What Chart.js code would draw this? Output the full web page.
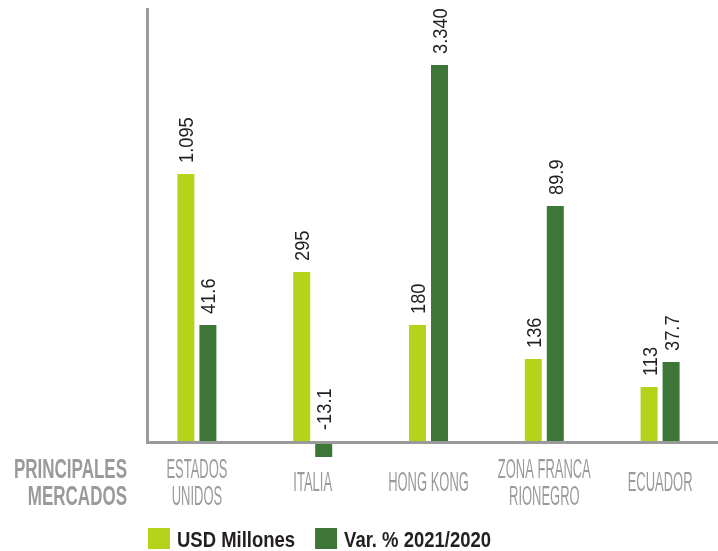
<!DOCTYPE html>
<html>
<head>
<meta charset="utf-8">
<title>Principales mercados</title>
<script src="https://cdn.jsdelivr.net/npm/chart.js"></script>
<style>
body{margin:0;background:#fff;}
#wrap{width:718px;height:551px;}
</style>
</head>
<body>
<div id="wrap"><canvas id="marketChart" width="718" height="551"></canvas></div>
<script>

/* ============================= */
/* DATA */
/* ============================= */

const markets = [["ESTADOS","UNIDOS"],["ITALIA"],["HONG KONG"],["ZONA FRANCA","RIONEGRO"],["ECUADOR"]]

// printed values (the bars are not drawn to scale in the original)
const usdLabels = ["1.095","295","180","136","113"]
const varLabels = ["41.6","-13.1","3.340","89.9","37.7"]

// bar heights as they appear in the picture
const usdHeights = [267,169,116,82,54]
const varHeights = [116,-16,376,235,79]

const seriesNames = ["USD Millones","Var. % 2021/2020"]
const axisTitle = ["PRINCIPALES","MERCADOS"]

const LIME = "#b4d31b"
const GREEN = "#3e7638"
const GREY = "#9a9a9a"
const INK = "#231f20"
const FONT = "'Liberation Sans', Arial, sans-serif"


/* ============================= */
/* HELPERS */
/* ============================= */

function condensedText(ctx,text,x,y,sx,align){
ctx.save()
ctx.translate(x,y)
ctx.scale(sx,1)
ctx.textAlign=align
ctx.fillText(text,0,0)
ctx.restore()
}


/* ============================= */
/* DRAWING PLUGIN */
/* ============================= */

const decorations = {
id:"decorations",

afterDatasetsDraw(chart){

const ctx = chart.ctx
const area = chart.chartArea
const x = chart.scales.x
const y = chart.scales.y
const zero = y.getPixelForValue(0)

// axis lines
ctx.save()
ctx.fillStyle=GREY
ctx.fillRect(area.left+7,area.top,3,zero-area.top+3)
ctx.fillRect(area.left+7,zero,area.right-area.left-7,3)
ctx.restore()

// value labels, rotated
const labels=[usdLabels,varLabels]
ctx.save()
ctx.fillStyle=INK
ctx.font="21px "+FONT
ctx.textBaseline="alphabetic"
chart.data.datasets.forEach((ds,di)=>{
chart.getDatasetMeta(di).data.forEach((bar,i)=>{
const top=Math.min(bar.y,bar.base)
ctx.save()
ctx.translate(bar.x+7.5,top-11)
ctx.rotate(-Math.PI/2)
ctx.scale(0.87,1)
ctx.textAlign="left"
ctx.fillText(labels[di][i],0,0)
ctx.restore()
})
})
ctx.restore()

// category labels
ctx.save()
ctx.fillStyle=GREY
ctx.font="27px "+FONT
ctx.textBaseline="alphabetic"
markets.forEach((lines,i)=>{
const cx=x.getPixelForValue(i)
lines.forEach((t,j)=>{
const by=491+(j-(lines.length-1)/2)*27
condensedText(ctx,t,cx,by,0.48,"center")
})
})

// axis title on the left
ctx.font="bold 27px "+FONT
axisTitle.forEach((t,j)=>{
condensedText(ctx,t,127,477.5+j*27,0.63,"right")
})
ctx.restore()

// legend
ctx.save()
ctx.font="bold 22px "+FONT
ctx.textBaseline="alphabetic"
let lx=148
chart.data.datasets.forEach(ds=>{
ctx.fillStyle=ds.backgroundColor
ctx.fillRect(lx,528,22,21)
ctx.fillStyle=INK
condensedText(ctx,ds.label,lx+29,547,0.84,"left")
lx+=29+ctx.measureText(ds.label).width*0.84+20
})
ctx.restore()

}
}


/* ============================= */
/* CHART */
/* ============================= */

const marketChart = new Chart(
document.getElementById("marketChart"),
{
type:"bar",

data:{
labels:markets,
datasets:[
{
label:seriesNames[0],
data:usdHeights,
backgroundColor:LIME
},
{
label:seriesNames[1],
data:varHeights,
backgroundColor:GREEN
}
]
},

options:{
animation:false,
responsive:false,
devicePixelRatio:1,
layout:{
padding:{left:139,right:0,top:8,bottom:91}
},
categoryPercentage:0.38,
barPercentage:0.773,

plugins:{
legend:{display:false},
tooltip:{enabled:false}
},

scales:{
x:{display:false},
y:{display:false,min:-19,max:433}
}
},

plugins:[decorations]
});

</script>
</body>
</html>
